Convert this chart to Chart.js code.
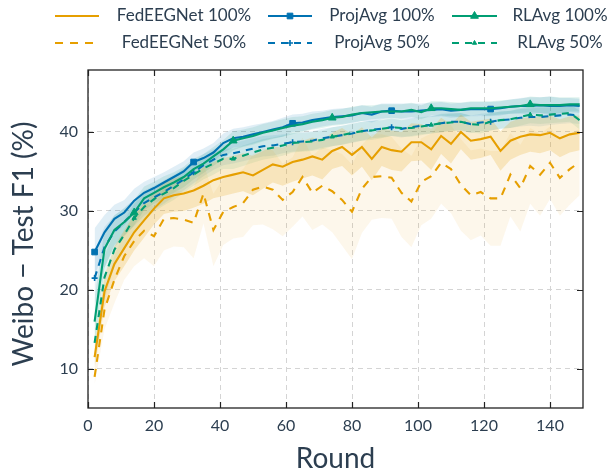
<!DOCTYPE html>
<html>
<head>
<meta charset="utf-8">
<script src="https://cdn.jsdelivr.net/npm/chart.js@4/dist/chart.umd.min.js"></script>
<style>
  html, body { margin: 0; padding: 0; background: #fff; }
  #wrap { width: 612px; height: 474px; }
</style>
</head>
<body>
<div id="wrap"><canvas id="c" width="612" height="474"></canvas></div>
<script>
// rounds at which the curves are sampled
const ROUNDS = [2, 5, 8, 11, 14, 17, 20, 23, 26, 29, 32, 35, 38, 41, 44, 47, 50, 53, 56, 59,
  62, 65, 68, 71, 74, 77, 80, 83, 86, 89, 92, 95, 98, 101, 104, 107, 110, 113, 116, 119,
  122, 125, 128, 131, 134, 137, 140, 143, 146, 149];

const X_TICKS = [0, 20, 40, 60, 80, 100, 120, 140];
const Y_TICKS = [10, 20, 30, 40];

// mean F1 (%)
const FED100 = [11.5, 19.8, 23.3, 25.3, 27.3, 28.8, 30.3, 31.6, 32.0, 32.2, 32.6, 33.2, 33.9, 34.3, 34.6, 34.9, 34.5, 35.2, 35.9, 35.6,
  36.2, 36.5, 36.9, 36.5, 37.6, 38.1, 37.1, 38.1, 36.6, 38.1, 37.7, 37.5, 38.7, 38.7, 37.8, 39.5, 38.5, 40.0, 38.9, 39.1,
  39.4, 37.6, 38.9, 39.4, 39.7, 39.6, 39.9, 39.2, 39.7, 39.9];
const PROJ100 = [24.8, 27.3, 29.0, 29.8, 31.3, 32.3, 32.9, 33.6, 34.3, 35.0, 36.2, 36.7, 37.4, 38.6, 39.2, 39.4, 39.7, 40.0, 40.3, 40.6,
  41.1, 41.2, 41.5, 41.7, 41.9, 42.0, 42.1, 42.4, 42.2, 42.6, 42.7, 42.6, 42.6, 42.7, 42.8, 42.9, 42.7, 42.8, 42.9, 42.9,
  42.9, 43.0, 43.2, 43.3, 43.3, 43.4, 43.3, 43.3, 43.4, 43.3];
const RL100 = [16.0, 25.2, 27.6, 28.6, 29.8, 31.6, 32.3, 33.0, 33.6, 34.3, 35.3, 36.0, 36.9, 37.8, 38.9, 39.2, 39.5, 39.9, 40.2, 40.5,
  40.8, 41.0, 41.3, 41.5, 41.8, 41.9, 42.2, 42.4, 42.5, 42.6, 42.6, 42.6, 42.8, 42.5, 43.0, 43.0, 42.9, 42.8, 43.0, 43.0,
  43.0, 43.1, 43.2, 43.3, 43.5, 43.4, 43.4, 43.4, 43.5, 43.5];
const FED50 = [9.0, 17.5, 21.3, 24.3, 26.2, 27.5, 26.8, 29.0, 29.1, 28.9, 28.5, 32.2, 27.6, 29.9, 30.5, 31.0, 32.7, 33.1, 32.7, 31.4,
  32.4, 34.3, 32.3, 33.2, 32.5, 31.4, 29.9, 32.8, 34.3, 34.4, 34.2, 32.3, 31.2, 33.7, 34.4, 36.1, 35.3, 33.3, 32.0, 32.4,
  31.6, 31.6, 34.6, 32.9, 35.7, 34.6, 36.1, 34.2, 35.3, 36.2];
const PROJ50 = [21.5, 25.4, 27.4, 28.6, 29.8, 31.0, 31.7, 32.4, 33.2, 34.0, 34.9, 35.8, 36.5, 37.1, 37.3, 37.6, 37.9, 38.2, 38.3, 38.5,
  38.7, 38.8, 38.9, 39.2, 39.4, 39.6, 39.8, 40.1, 40.3, 40.4, 40.6, 40.4, 40.6, 40.8, 40.9, 41.1, 41.3, 41.3, 41.0, 41.2,
  41.3, 41.5, 41.6, 41.8, 41.9, 41.9, 42.0, 42.1, 42.2, 42.1];
const RL50 = [13.3, 21.6, 25.1, 27.0, 29.1, 30.5, 31.5, 32.2, 32.9, 33.8, 34.6, 35.4, 36.0, 36.6, 36.6, 37.0, 37.4, 37.8, 38.0, 38.3,
  38.6, 38.7, 38.8, 39.0, 39.4, 39.6, 39.9, 40.1, 40.2, 40.4, 40.6, 40.5, 40.5, 40.7, 40.9, 41.1, 41.2, 41.3, 41.0, 40.9,
  41.3, 41.5, 41.6, 41.9, 42.2, 42.1, 42.2, 42.3, 42.4, 41.5];

// spread (std) around each curve
const SD_FED100 = [1.5, 2.0, 2.2, 2.3, 2.3, 2.2, 2.0, 2.0, 2.1, 2.2, 2.2, 2.3, 2.3, 2.4, 2.4, 2.4, 2.5, 2.4, 2.3, 2.4,
  2.5, 2.4, 2.4, 2.5, 2.3, 2.4, 2.6, 2.5, 2.7, 2.4, 2.5, 2.5, 2.4, 2.3, 2.6, 2.3, 2.5, 2.2, 2.4, 2.4,
  2.3, 2.5, 2.4, 2.3, 2.2, 2.3, 2.2, 2.4, 2.3, 2.2];
const SD_FED50 = [1.0, 2.5, 3.0, 3.0, 3.2, 3.5, 3.8, 4.0, 3.6, 3.5, 4.5, 3.8, 4.6, 4.2, 4.0, 4.3, 4.5, 4.8, 5.0, 4.6,
  4.4, 5.0, 4.7, 4.9, 5.2, 5.8, 6.0, 5.6, 5.4, 5.3, 5.2, 5.6, 5.8, 5.5, 5.4, 5.2, 5.6, 5.8, 5.7, 5.5,
  6.0, 6.0, 5.3, 5.5, 4.8, 5.2, 4.6, 4.8, 4.5, 4.2];
const SD_PROJ100 = [3.0, 2.2, 1.8, 1.6, 1.5, 1.4, 1.4, 1.3, 1.3, 1.3, 1.2, 1.2, 1.2, 1.2, 1.2, 1.2, 1.2, 1.1, 1.1, 1.2,
  1.1, 1.1, 1.1, 1.0, 1.0, 1.0, 1.0, 1.0, 1.0, 1.0, 0.9, 1.0, 1.0, 0.9, 0.9, 0.9, 0.9, 0.9, 0.9, 0.9,
  0.9, 0.9, 0.9, 1.0, 1.1, 1.0, 1.2, 1.0, 0.9, 0.9];
const SD_RL100 = [3.0, 2.4, 1.9, 1.7, 1.6, 1.5, 1.4, 1.4, 1.3, 1.3, 1.3, 1.2, 1.2, 1.2, 1.2, 1.1, 1.1, 1.1, 1.1, 1.1,
  1.1, 1.0, 1.0, 1.0, 1.0, 1.0, 1.0, 1.0, 0.9, 0.9, 0.9, 0.9, 0.9, 0.9, 0.9, 0.9, 0.9, 0.9, 0.9, 0.9,
  0.9, 0.9, 0.9, 0.9, 1.0, 1.0, 1.1, 1.0, 0.9, 0.9];
const SD_PROJ50 = [3.5, 2.6, 2.0, 1.8, 1.7, 1.6, 1.5, 1.5, 1.4, 1.4, 1.4, 1.4, 1.3, 1.3, 1.3, 1.3, 1.3, 1.3, 1.3, 1.2,
  1.2, 1.2, 1.2, 1.2, 1.2, 1.2, 1.2, 1.2, 1.1, 1.1, 1.1, 1.1, 1.1, 1.1, 1.1, 1.2, 1.1, 1.1, 1.1, 1.1,
  1.1, 1.1, 1.1, 1.1, 1.1, 1.2, 1.1, 1.1, 1.1, 1.1];
const SD_RL50 = [3.0, 2.8, 2.2, 1.9, 1.8, 1.7, 1.6, 1.5, 1.5, 1.5, 1.4, 1.4, 1.4, 1.3, 1.3, 1.3, 1.3, 1.3, 1.3, 1.3,
  1.2, 1.2, 1.2, 1.2, 1.2, 1.2, 1.2, 1.2, 1.2, 1.2, 1.1, 1.1, 1.1, 1.1, 1.1, 1.1, 1.1, 1.1, 1.1, 1.1,
  1.1, 1.1, 1.1, 1.1, 1.1, 1.1, 1.1, 1.1, 1.1, 1.2];

const ORANGE = '#E69F00', BLUE = '#0072B2', GREEN = '#009E73';
const TEXT = '#2c3e50';
const FONT = 'Lato, "Open Sans", sans-serif';

// legend order: row 1 = 100%, row 2 = 50%
const SERIES = [
  { label: 'FedEEGNet 100%', y: FED100, sd: SD_FED100, color: ORANGE, dash: [], marker: false, start: 0, r: 0, band: 'rgba(230,159,0,0.20)', order: 5 },
  { label: 'ProjAvg 100%', y: PROJ100, sd: SD_PROJ100, color: BLUE, dash: [], marker: 'rect', start: 0, r: 4, band: 'rgba(0,114,178,0.12)', order: 2 },
  { label: 'RLAvg 100%', y: RL100, sd: SD_RL100, color: GREEN, dash: [], marker: 'triangle', start: 4, r: 4.5, band: 'rgba(0,158,115,0.12)', order: 1 },
  { label: 'FedEEGNet 50%', y: FED50, sd: SD_FED50, color: ORANGE, dash: [8, 7], marker: false, start: 0, r: 0, band: 'rgba(230,159,0,0.08)', order: 6 },
  { label: 'ProjAvg 50%', y: PROJ50, sd: SD_PROJ50, color: BLUE, dash: [7, 6], marker: 'cross', start: 0, r: 3, band: 'rgba(0,114,178,0.10)', order: 4 },
  { label: 'RLAvg 50%', y: RL50, sd: SD_RL50, color: GREEN, dash: [7, 6], marker: 'triangle', start: 4, r: 2.5, band: 'rgba(0,158,115,0.10)', order: 3 }
];

const pts = (arr) => ROUNDS.map((r, i) => ({ x: r, y: arr[i] }));

const datasets = [];
SERIES.forEach(s => {
  datasets.push({
    label: '_lo', data: pts(s.y.map((v, i) => v - s.sd[i])),
    borderWidth: 0, borderColor: 'rgba(0,0,0,0)', pointRadius: 0, fill: false, order: 10
  });
  datasets.push({
    label: '_hi', data: pts(s.y.map((v, i) => v + s.sd[i])),
    borderWidth: 0, borderColor: 'rgba(0,0,0,0)', pointRadius: 0, fill: '-1', backgroundColor: s.band, order: 10
  });
});
SERIES.forEach(s => {
  datasets.push({
    label: s.label,
    data: pts(s.y),
    borderColor: s.color,
    backgroundColor: s.color,
    borderWidth: 2.1,
    borderDash: s.dash,
    tension: 0,
    fill: false,
    order: s.order,
    pointStyle: s.marker || 'circle',
    pointBackgroundColor: s.color,
    pointBorderColor: s.color,
    pointBorderWidth: s.marker === 'cross' ? 1.6 : 1,
    pointRadius: ctx => (s.marker && ctx.dataIndex >= s.start && (ctx.dataIndex - s.start) % 10 === 0) ? s.r : 0
  });
});

// frame, inward ticks, axis titles and the 2x3 legend
const decor = {
  id: 'decor',
  afterDraw(chart) {
    const { ctx, chartArea: a, scales: { x, y } } = chart;
    ctx.save();
    ctx.strokeStyle = '#222';
    ctx.lineWidth = 1.3;
    ctx.setLineDash([]);
    ctx.strokeRect(a.left, a.top, a.right - a.left, a.bottom - a.top);
    ctx.lineWidth = 1.2;
    ctx.beginPath();
    X_TICKS.forEach(v => {
      const px = Math.round(x.getPixelForValue(v)) + 0.5;
      ctx.moveTo(px, a.bottom); ctx.lineTo(px, a.bottom - 6);
      ctx.moveTo(px, a.top); ctx.lineTo(px, a.top + 6);
    });
    Y_TICKS.forEach(v => {
      const py = Math.round(y.getPixelForValue(v)) + 0.5;
      ctx.moveTo(a.left, py); ctx.lineTo(a.left + 6, py);
      ctx.moveTo(a.right, py); ctx.lineTo(a.right - 6, py);
    });
    ctx.stroke();

    ctx.fillStyle = TEXT;
    ctx.font = '28px ' + FONT;
    ctx.textAlign = 'center';
    ctx.textBaseline = 'middle';
    ctx.fillText('Round', (a.left + a.right) / 2, 459);
    ctx.save();
    ctx.translate(24, 244);
    ctx.rotate(-Math.PI / 2);
    ctx.fillText('Weibo \u2212 Test F1 (%)', 0, 0);
    ctx.restore();

    const cols = [{ x0: 55, x1: 99, tx: 184 }, { x0: 268, x1: 312, tx: 382 }, { x0: 452, x1: 497, tx: 560 }];
    const rows = [16, 43];
    ctx.font = '17px ' + FONT;
    SERIES.forEach((s, i) => {
      const c = cols[i % 3], ry = rows[Math.floor(i / 3)];
      ctx.strokeStyle = s.color;
      ctx.lineWidth = 2.1;
      ctx.setLineDash(s.dash);
      ctx.beginPath();
      ctx.moveTo(c.x0, ry); ctx.lineTo(c.x1, ry);
      ctx.stroke();
      ctx.setLineDash([]);
      if (s.marker) {
        ctx.fillStyle = s.color;
        ctx.lineWidth = s.marker === 'cross' ? 1.6 : 1;
        Chart.helpers.drawPoint(ctx, { pointStyle: s.marker, radius: s.r, borderWidth: ctx.lineWidth }, (c.x0 + c.x1) / 2, ry);
      }
      ctx.fillStyle = TEXT;
      ctx.fillText(s.label, c.tx, ry);
    });
    ctx.restore();
  }
};

new Chart(document.getElementById('c'), {
  type: 'line',
  data: { datasets },
  plugins: [decor],
  options: {
    responsive: false,
    animation: false,
    layout: { padding: { top: 70, right: 29, left: 0, bottom: 0 } },
    plugins: {
      legend: { display: false },
      tooltip: { enabled: false },
      filler: { drawTime: 'beforeDatasetsDraw' }
    },
    scales: {
      x: {
        type: 'linear', min: 0, max: 150,
        afterBuildTicks: s => { s.ticks = X_TICKS.map(v => ({ value: v })); },
        afterFit: s => { s.height = 66; },
        grid: { color: '#d4d4d4', lineWidth: 1, drawTicks: false },
        border: { display: false, dash: [5, 4] },
        ticks: { color: TEXT, font: { family: FONT, size: 16 }, padding: 8, maxRotation: 0 }
      },
      y: {
        type: 'linear', min: 5.05, max: 47.85,
        afterBuildTicks: s => { s.ticks = Y_TICKS.map(v => ({ value: v })); },
        afterFit: s => { s.width = 88; },
        grid: { color: '#d4d4d4', lineWidth: 1, drawTicks: false },
        border: { display: false, dash: [5, 4] },
        ticks: { color: TEXT, font: { family: FONT, size: 16 }, padding: 10 }
      }
    }
  }
});
</script>
</body>
</html>
